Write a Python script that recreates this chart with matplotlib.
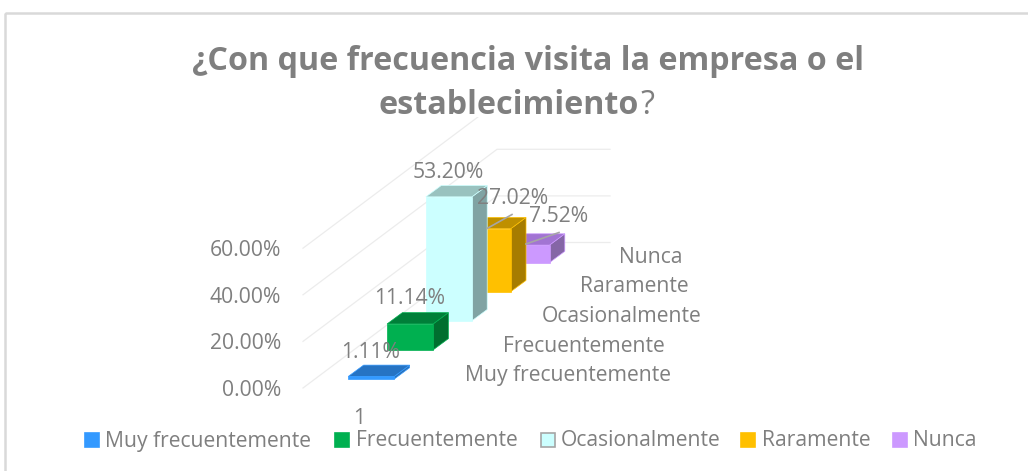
import matplotlib.pyplot as plt
from matplotlib.patches import Polygon, Rectangle

plt.rcParams['font.family'] = ['Open Sans', 'DejaVu Sans']

# Datos del grafico
categorias = ["Muy frecuentemente", "Frecuentemente", "Ocasionalmente", "Raramente", "Nunca"]
valores = [1.11, 11.14, 53.20, 27.02, 7.52]
etiquetas = ["1.11%", "11.14%", "53.20%", "27.02%", "7.52%"]
ticks = [0, 20, 40, 60]
tick_labels = ["0.00%", "20.00%", "40.00%", "60.00%"]

# Colores: frente, arriba, lado
frente = ["#3399ff", "#00b050", "#ccffff", "#ffc000", "#cc99ff"]
arriba = ["#2673c3", "#007f39", "#99c2bf", "#bf9000", "#a274d3"]
lado = ["#2a6fb5", "#006f2f", "#80a3a3", "#a67c00", "#8566a6"]
gris = "#7f7f7f"
letra = 15.2

# Proyeccion oblicua del 3D de Excel, en pixeles
px_por_pct = 2.33
paso_x, paso_y = 38.8, -29.1
prof_x, prof_y = 15.3, -11.3
ancho = 46
x0, y0 = 303, 388


def base(i):
    return x0 + 45.3 + paso_x * i, y0 - 9 + paso_y * i


fig = plt.figure(figsize=(10.28, 4.71), dpi=100)
ax = fig.add_axes([0, 0, 1, 1])
ax.set_xlim(0, 1028)
ax.set_ylim(471, 0)
ax.axis("off")

# Marco
ax.add_patch(Rectangle((5, 13), 1040, 500, fill=False, ec="#d9d9d9", lw=1.8))

# Rejilla
n = len(categorias)
for t, lab in zip(ticks, tick_labels):
    y = y0 - t * px_por_pct
    xf, yf = x0 + paso_x * n, y + paso_y * n
    ax.plot([x0, xf, 610], [y, yf, yf], color="#ececec", lw=0.9, zorder=1)
    ax.text(281, y + 2.5, lab, ha="right", va="center", fontsize=letra, color=gris, zorder=6)

# Barras, de atras hacia adelante
for i in range(n - 1, -1, -1):
    x, y = base(i)
    h = valores[i] * px_por_pct
    cara = [(x, y), (x + ancho, y), (x + ancho, y - h), (x, y - h)]
    tapa = [(x, y - h), (x + ancho, y - h), (x + ancho + prof_x, y - h + prof_y), (x + prof_x, y - h + prof_y)]
    costado = [(x + ancho, y), (x + ancho + prof_x, y + prof_y), (x + ancho + prof_x, y - h + prof_y), (x + ancho, y - h)]
    z = 2 + (n - i) * 0.1
    ax.add_patch(Polygon(costado, fc=lado[i], ec=frente[i], lw=0.5, zorder=z))
    ax.add_patch(Polygon(tapa, fc=arriba[i], ec=frente[i], lw=0.5, zorder=z))
    ax.add_patch(Polygon(cara, fc=frente[i], ec=frente[i], lw=0.5, zorder=z))

# Etiquetas de datos
pos_etiquetas = [(371, 352), (410, 299), (448, 172), (513, 198), (559, 216)]
for (xt, yt), lab in zip(pos_etiquetas, etiquetas):
    ax.text(xt, yt, lab, ha="center", va="center", fontsize=letra, color=gris, zorder=6)
ax.plot([487, 512], [228.5, 214.5], color="#a6a6a6", lw=1.2, zorder=5)
ax.plot([526, 559], [244, 232.5], color="#a6a6a6", lw=1.2, zorder=5)

# Categorias en el eje de profundidad
for i, cat in enumerate(categorias):
    ax.text(465 + 38.4 * i, 375.5 - 29.5 * i, cat, ha="left", va="center", fontsize=letra, color=gris, zorder=6)

ax.text(359, 419, "1", ha="center", va="center", fontsize=letra, color=gris, zorder=6)

# Titulo, con fondo blanco que tapa la rejilla
ax.add_patch(Rectangle((150, 35), 760, 82, fc="white", ec="none", zorder=3))
ax.text(528, 61, "¿Con que frecuencia visita la empresa o el", ha="center", va="center",
        fontsize=23.2, fontweight="bold", color=gris, zorder=7)
ax.text(639, 106, "establecimiento", ha="right", va="center", fontsize=23.2, fontweight="bold", color=gris, zorder=7)
ax.text(640, 106, "?", ha="left", va="center", fontsize=23.2, color=gris, zorder=7)

# Leyenda
ley_cuadro = [85, 335, 541, 741, 893]
ley_texto = [105, 356, 561, 762, 913]
for i, cat in enumerate(categorias):
    borde = "#a6a6a6" if i == 2 else frente[i]
    ax.add_patch(Rectangle((ley_cuadro[i], 433), 14, 14, fc=frente[i], ec=borde, lw=1.2, zorder=6))
    ax.text(ley_texto[i], 441, cat, ha="left", va="center", fontsize=letra, color=gris, zorder=6)

fig.savefig("out.png", dpi=100)
